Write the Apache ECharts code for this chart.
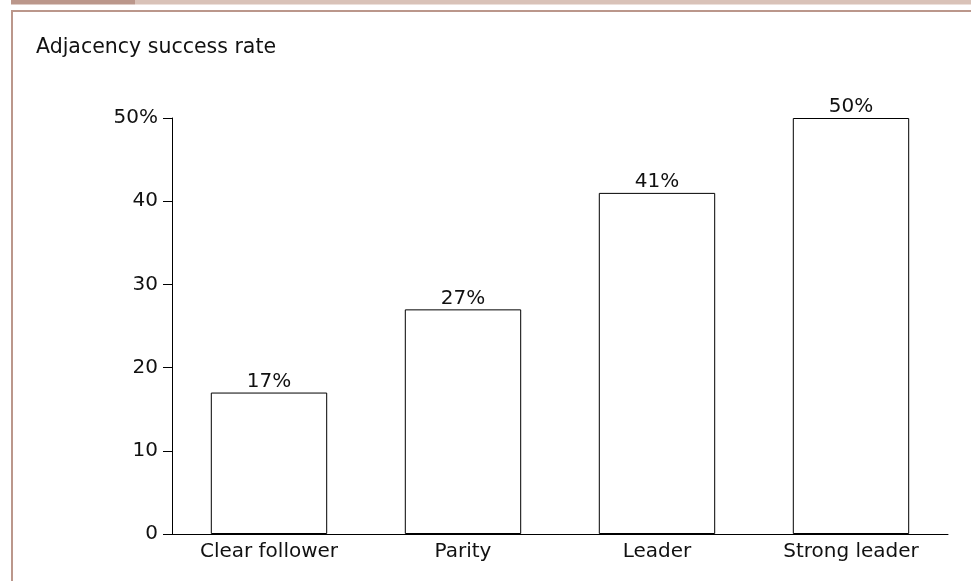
<!DOCTYPE html>
<html>
<head>
<meta charset="utf-8">
<script src="https://cdn.jsdelivr.net/npm/echarts@6/dist/echarts.min.js"></script>
<style>
html,body{margin:0;padding:0;background:#fff;}
#chart{width:971px;height:581px;}
</style>
</head>
<body>
<div id="chart"></div>
<script>
const categories = ["Clear follower", "Parity", "Leader", "Strong leader"];
const successRate = [17, 27, 41, 50];
const yTickValues = [0, 10, 20, 30, 40, 50];
const titleText = "Adjacency success rate";

const chart = echarts.init(document.getElementById('chart'), null, {renderer: 'canvas'});
const FONT = "'DejaVu Sans', Verdana, sans-serif";
chart.setOption({
  backgroundColor: '#ffffff',
  animation: false,
  graphic: [
    {type: 'rect', shape: {x: 11, y: 0, width: 124, height: 4.5}, style: {fill: '#bb978b'}},
    {type: 'rect', shape: {x: 135, y: 0, width: 836, height: 4.5}, style: {fill: '#d9c2b8'}},
    {type: 'rect', shape: {x: 11, y: 10, width: 960, height: 2}, style: {fill: '#bb978b'}},
    {type: 'rect', shape: {x: 11, y: 10, width: 2, height: 571}, style: {fill: '#bb978b'}},
    {type: 'text', left: 36, top: 37, style: {text: titleText, font: "20.5px " + FONT, fill: '#111'}}
  ],
  grid: {left: 172, right: 23, top: 118, bottom: 47, containLabel: false},
  xAxis: {
    type: 'category',
    data: categories,
    axisLine: {lineStyle: {color: '#000', width: 1}},
    axisTick: {show: false},
    axisLabel: {color: '#111', fontSize: 20, fontFamily: FONT, margin: 8}
  },
  yAxis: {
    type: 'value',
    min: 0, max: 50, interval: 10,
    splitLine: {show: false},
    axisLine: {show: true, lineStyle: {color: '#000', width: 1}},
    axisTick: {show: true, length: 9, lineStyle: {color: '#000'}},
    axisLabel: {
      color: '#111', fontSize: 20, fontFamily: FONT, margin: 14,
      formatter: v => (v === yTickValues[yTickValues.length - 1] ? v + '%' : String(v))
    }
  },
  series: [{
    type: 'bar',
    data: successRate,
    barCategoryGap: '40%',
    itemStyle: {color: '#ffffff', borderColor: '#000', borderWidth: 1},
    label: {show: true, position: 'top', distance: 1, formatter: p => p.value + '%', color: '#111', fontSize: 20, fontFamily: FONT}
  }]
});
</script>
</body>
</html>
